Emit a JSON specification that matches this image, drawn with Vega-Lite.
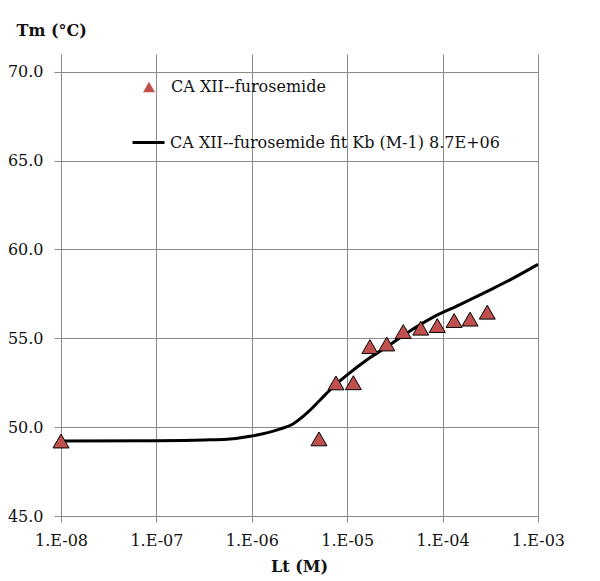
{
  "$schema": "https://vega.github.io/schema/vega-lite/v6.json",
  "width": 477,
  "height": 462,
  "autosize": {"type": "none"},
  "padding": {"left": 61, "top": 54, "right": 62, "bottom": 65},
  "background": "white",
  "config": {
    "view": {"stroke": null},
    "font": "DejaVu Serif",
    "axis": {
      "labelFont": "DejaVu Serif",
      "labelFontSize": 16,
      "labelColor": "#111",
      "labelFlush": false,
      "labelOverlap": false,
      "titleFont": "DejaVu Serif",
      "titleFontSize": 16,
      "titleFontWeight": "bold",
      "titleColor": "#111",
      "gridColor": "#8a8a8a",
      "gridWidth": 1,
      "gridOpacity": 1,
      "domainColor": "#8a8a8a",
      "tickColor": "#8a8a8a"
    },
    "legend": {
      "labelFont": "DejaVu Serif",
      "labelFontSize": 16,
      "labelColor": "#111",
      "padding": 0,
      "title": null
    }
  },
  "datasets": {
    "pts": [
      {"Lt": 1e-8, "Tm": 49.22, "series": "CA XII--furosemide"},
      {"Lt": 5.06e-6, "Tm": 49.34, "series": "CA XII--furosemide"},
      {"Lt": 7.63e-6, "Tm": 52.49, "series": "CA XII--furosemide"},
      {"Lt": 1.16e-5, "Tm": 52.5, "series": "CA XII--furosemide"},
      {"Lt": 1.73e-5, "Tm": 54.53, "series": "CA XII--furosemide"},
      {"Lt": 2.6e-5, "Tm": 54.68, "series": "CA XII--furosemide"},
      {"Lt": 3.87e-5, "Tm": 55.38, "series": "CA XII--furosemide"},
      {"Lt": 5.9e-5, "Tm": 55.57, "series": "CA XII--furosemide"},
      {"Lt": 8.8e-5, "Tm": 55.72, "series": "CA XII--furosemide"},
      {"Lt": 1.32e-4, "Tm": 56.0, "series": "CA XII--furosemide"},
      {"Lt": 1.94e-4, "Tm": 56.08, "series": "CA XII--furosemide"},
      {"Lt": 2.94e-4, "Tm": 56.47, "series": "CA XII--furosemide"}
    ],
    "fit": [
      {"Lt": 1e-8, "Tm": 49.22, "fitname": "CA XII--furosemide fit Kb (M-1) 8.7E+06"},
      {"Lt": 1e-7, "Tm": 49.24, "fitname": "CA XII--furosemide fit Kb (M-1) 8.7E+06"},
      {"Lt": 3.2e-7, "Tm": 49.28, "fitname": "CA XII--furosemide fit Kb (M-1) 8.7E+06"},
      {"Lt": 5.5e-7, "Tm": 49.32, "fitname": "CA XII--furosemide fit Kb (M-1) 8.7E+06"},
      {"Lt": 1e-6, "Tm": 49.5, "fitname": "CA XII--furosemide fit Kb (M-1) 8.7E+06"},
      {"Lt": 2e-6, "Tm": 49.9, "fitname": "CA XII--furosemide fit Kb (M-1) 8.7E+06"},
      {"Lt": 2.7e-6, "Tm": 50.18, "fitname": "CA XII--furosemide fit Kb (M-1) 8.7E+06"},
      {"Lt": 3.8e-6, "Tm": 50.8, "fitname": "CA XII--furosemide fit Kb (M-1) 8.7E+06"},
      {"Lt": 5.2e-6, "Tm": 51.53, "fitname": "CA XII--furosemide fit Kb (M-1) 8.7E+06"},
      {"Lt": 7.1e-6, "Tm": 52.26, "fitname": "CA XII--furosemide fit Kb (M-1) 8.7E+06"},
      {"Lt": 1e-5, "Tm": 52.94, "fitname": "CA XII--furosemide fit Kb (M-1) 8.7E+06"},
      {"Lt": 1.6e-5, "Tm": 53.78, "fitname": "CA XII--furosemide fit Kb (M-1) 8.7E+06"},
      {"Lt": 2.8e-5, "Tm": 54.63, "fitname": "CA XII--furosemide fit Kb (M-1) 8.7E+06"},
      {"Lt": 4.2e-5, "Tm": 55.29, "fitname": "CA XII--furosemide fit Kb (M-1) 8.7E+06"},
      {"Lt": 7.9e-5, "Tm": 56.18, "fitname": "CA XII--furosemide fit Kb (M-1) 8.7E+06"},
      {"Lt": 1.5e-4, "Tm": 56.88, "fitname": "CA XII--furosemide fit Kb (M-1) 8.7E+06"},
      {"Lt": 2.9e-4, "Tm": 57.63, "fitname": "CA XII--furosemide fit Kb (M-1) 8.7E+06"},
      {"Lt": 5.1e-4, "Tm": 58.29, "fitname": "CA XII--furosemide fit Kb (M-1) 8.7E+06"},
      {"Lt": 1e-3, "Tm": 59.16, "fitname": "CA XII--furosemide fit Kb (M-1) 8.7E+06"}
    ]
  },
  "encoding": {
    "x": {
      "field": "Lt",
      "type": "quantitative",
      "scale": {"type": "log", "domain": [1e-8, 1e-3], "nice": false},
      "axis": {
        "title": "Lt (M)",
        "values": [1e-8, 1e-7, 1e-6, 1e-5, 1e-4, 1e-3],
        "labelExpr": "'1.E-0' + round(-log(datum.value)/LN10)",
        "tickSize": 6,
        "labelPadding": 10,
        "titleY": 50,
        "titleBaseline": "middle",
        "titleX": 238,
        "titleAlign": "center"
      }
    },
    "y": {
      "field": "Tm",
      "type": "quantitative",
      "scale": {"domain": [45, 71], "nice": false, "zero": false},
      "axis": {
        "title": "Tm (°C)",
        "values": [45, 50, 55, 60, 65, 70],
        "format": ".1f",
        "tickSize": 7,
        "labelPadding": 11,
        "titleAngle": 0,
        "titleAlign": "left",
        "titleBaseline": "middle",
        "titleX": -45,
        "titleY": -24
      }
    }
  },
  "layer": [
    {
      "data": {"name": "fit"},
      "mark": {"type": "line", "strokeWidth": 3, "interpolate": "monotone"},
      "encoding": {
        "stroke": {
          "field": "fitname",
          "type": "nominal",
          "scale": {"range": ["black"]},
          "legend": {
            "orient": "none",
            "legendX": 70,
            "legendY": 71,
            "symbolType": "stroke",
            "symbolSize": 1024,
            "symbolStrokeWidth": 3,
            "labelOffset": 4,
            "labelLimit": 500
          }
        }
      }
    },
    {
      "data": {"name": "pts"},
      "mark": {"type": "point", "filled": true, "fill": "#c0504d", "stroke": "black", "strokeWidth": 1, "size": 256, "opacity": 1},
      "encoding": {
        "shape": {
          "field": "series",
          "type": "nominal",
          "scale": {"range": ["triangle-up"]},
          "legend": {
            "orient": "none",
            "legendX": 80,
            "legendY": 25,
            "symbolSize": 144,
            "symbolFillColor": "#c0504d",
            "symbolStrokeColor": "black",
            "symbolStrokeWidth": 1,
            "symbolOpacity": 1,
            "labelOffset": 14,
            "labelLimit": 500
          }
        }
      }
    }
  ]
}
